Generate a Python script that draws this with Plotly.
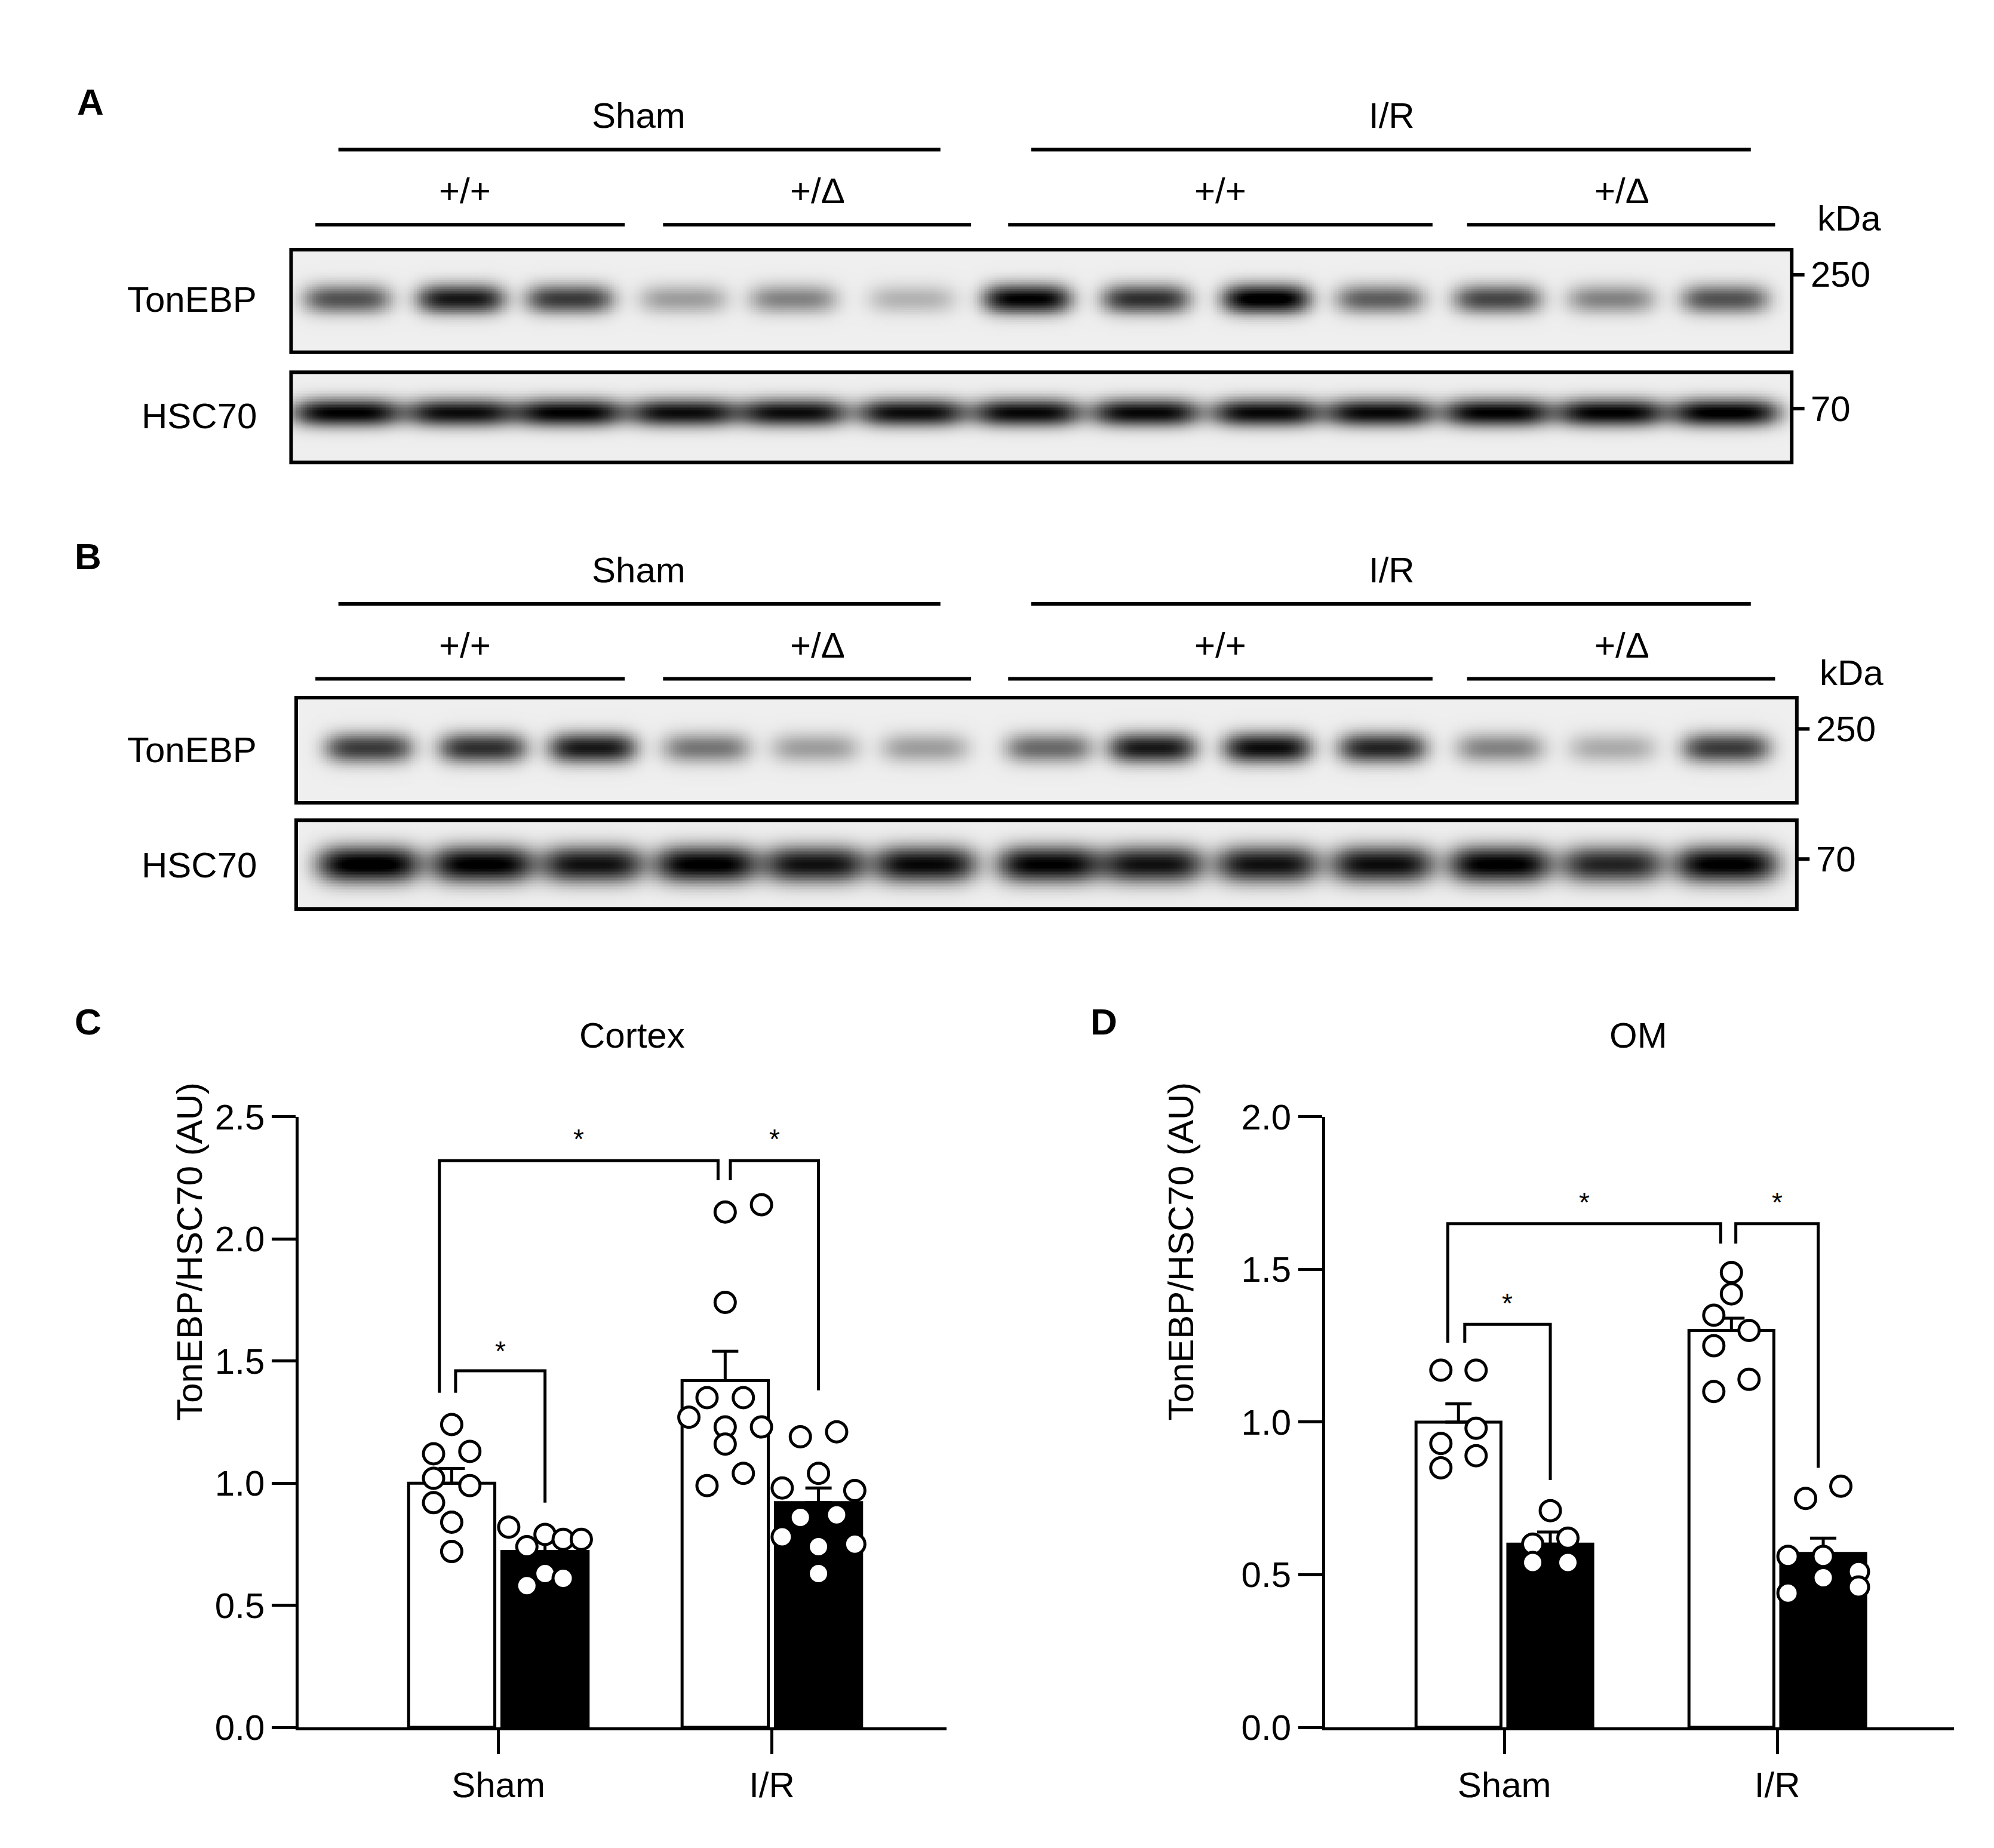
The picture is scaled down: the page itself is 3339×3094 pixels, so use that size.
import numpy as np
import plotly.graph_objects as go

W, H = 3339, 3094
DW, DH = 1560, 1445  # display reference frame
def px(x): return x / DW
def py(y): return 1 - y / DH

# ---------------- data ----------------
groups = ["Sham", "I/R"]
c_means_wt = [1.00, 1.42]
c_err_wt = [0.06, 0.12]
c_means_d = [0.72, 0.92]
c_err_d = [0.04, 0.06]
c_pts_sham_wt = [1.24, 1.12, 1.13, 1.02, 0.99, 0.92, 0.84, 0.72]
c_pts_sham_d = [0.82, 0.74, 0.79, 0.77, 0.77, 0.63, 0.61, 0.58]
c_pts_ir_wt = [2.11, 2.14, 1.74, 1.35, 1.35, 1.27, 1.23, 1.23, 1.16, 0.99, 1.04]
c_pts_ir_d = [1.19, 1.21, 1.04, 0.98, 0.97, 0.86, 0.87, 0.78, 0.74, 0.75, 0.63]

d_means_wt = [1.00, 1.30]
d_err_wt = [0.06, 0.04]
d_means_d = [0.60, 0.57]
d_err_d = [0.04, 0.05]
d_pts_sham_wt = [1.17, 1.17, 0.98, 0.93, 0.89, 0.85]
d_pts_sham_d = [0.71, 0.60, 0.62, 0.54, 0.54]
d_pts_ir_wt = [1.49, 1.42, 1.35, 1.30, 1.25, 1.14, 1.10]
d_pts_ir_d = [0.75, 0.79, 0.56, 0.56, 0.49, 0.51, 0.44, 0.46]

# blot band intensities (13 lanes)
a_tonebp = [0.6, 0.85, 0.7, 0.3, 0.4, 0.22, 0.95, 0.75, 1.0, 0.55, 0.65, 0.4, 0.6]
a_hsc70 = [0.95, 0.9, 0.95, 0.9, 0.9, 0.9, 0.92, 0.92, 0.92, 0.92, 0.95, 0.95, 0.97]
b_tonebp = [0.7, 0.75, 0.85, 0.45, 0.3, 0.3, 0.5, 0.85, 0.9, 0.8, 0.4, 0.25, 0.7]
b_hsc70 = [1.0, 0.97, 0.88, 0.97, 0.88, 0.92, 0.95, 0.88, 0.88, 0.9, 0.97, 0.8, 0.97]

# ---------------- styling / layout helpers ----------------
jit_sham_wt_c = [0, -2, 2, -2, 2, -2, 0, 0]
jit_sham_d_c = [-4, -2, 0, 2, 4, 0, 2, -2]
jit_ir_wt_c = [0, 4, 0, -2, 2, -4, 0, 4, 0, -2, 2]
jit_ir_d_c = [-2, 2, 0, -4, 4, -2, 2, -4, 0, 4, 0]
jit_sham_wt_d = [-2, 2, 2, -2, 2, -2]
jit_sham_d_d = [0, -2, 2, -2, 2]
jit_ir_wt_d = [0, 0, -2, 2, -2, 2, -2]
jit_ir_d_d = [-2, 2, -4, 0, 0, 4, -4, 4]
STEP = 0.14

FONT = "Liberation Sans, Arial, sans-serif"
LW = 5
fig = go.Figure()
shapes = []
annots = []

def add_bar_panel(xa, ya, centers, off, bw, means_wt, err_wt, means_d, err_d, pts, jits):
    xs_wt = [c - off for c in centers]
    xs_d = [c + off for c in centers]
    fig.add_trace(go.Bar(x=xs_wt, y=means_wt, width=bw, marker=dict(color="white", line=dict(color="black", width=LW)),
                         error_y=dict(type="data", array=err_wt, arrayminus=[0, 0], symmetric=False, color="black", thickness=LW, width=22),
                         xaxis=xa, yaxis=ya, showlegend=False))
    fig.add_trace(go.Bar(x=xs_d, y=means_d, width=bw, marker=dict(color="black", line=dict(color="black", width=LW)),
                         error_y=dict(type="data", array=err_d, arrayminus=[0, 0], symmetric=False, color="black", thickness=LW, width=22),
                         xaxis=xa, yaxis=ya, showlegend=False))
    bases = [xs_wt[0], xs_d[0], xs_wt[1], xs_d[1]]
    for b, p, j in zip(bases, pts, jits):
        fig.add_trace(go.Scatter(x=[b + k * STEP for k in j], y=p, mode="markers",
                                 marker=dict(size=34, color="white", line=dict(color="black", width=5)),
                                 xaxis=xa, yaxis=ya, showlegend=False, cliponaxis=False))
    return xs_wt, xs_d

# Panel C
c_centers = [3.08, 7.3]
cw, cd = add_bar_panel("x", "y", c_centers, 0.72, 1.33, c_means_wt, c_err_wt, c_means_d, c_err_d,
                       [c_pts_sham_wt, c_pts_sham_d, c_pts_ir_wt, c_pts_ir_d],
                       [jit_sham_wt_c, jit_sham_d_c, jit_ir_wt_c, jit_ir_d_c])
# Panel D
d_centers = [2.85, 7.19]
dw, dd = add_bar_panel("x2", "y2", d_centers, 0.73, 1.35, d_means_wt, d_err_wt, d_means_d, d_err_d,
                       [d_pts_sham_wt, d_pts_sham_d, d_pts_ir_wt, d_pts_ir_d],
                       [jit_sham_wt_d, jit_sham_d_d, jit_ir_wt_d, jit_ir_d_d])

def bracket(xr, yr, x0, y0, x1, y1, ytop):
    shapes.append(dict(type="path", xref=xr, yref=yr,
                       path=f"M {x0},{y0} L {x0},{ytop} L {x1},{ytop} L {x1},{y1}",
                       line=dict(color="black", width=5)))

def star(xr, yr, x, y):
    annots.append(dict(xref=xr, yref=yr, x=x, y=y, text="*", showarrow=False,
                       font=dict(family=FONT, size=46, color="black")))

# C brackets
bracket("x", "y", cw[0] + 0.06, 1.37, cd[0], 0.92, 1.46)
star("x", "y", (cw[0] + 0.06 + cd[0]) / 2, 1.54)
bracket("x", "y", cw[0] - 0.19, 1.37, cw[1] - 0.11, 2.24, 2.32)
star("x", "y", (cw[0] - 0.19 + cw[1] - 0.11) / 2, 2.41)
bracket("x", "y", cw[1] + 0.08, 2.24, cd[1], 1.38, 2.32)
star("x", "y", (cw[1] + 0.08 + cd[1]) / 2, 2.41)
# D brackets
bracket("x2", "y2", dw[0] + 0.1, 1.26, dd[0], 0.81, 1.32)
star("x2", "y2", (dw[0] + 0.1 + dd[0]) / 2, 1.39)
bracket("x2", "y2", dw[0] - 0.17, 1.26, dw[1] - 0.17, 1.585, 1.65)
star("x2", "y2", (dw[0] - 0.17 + dw[1] - 0.17) / 2, 1.72)
bracket("x2", "y2", dw[1] + 0.07, 1.585, dd[1] - 0.08, 0.85, 1.65)
star("x2", "y2", (dw[1] + 0.07 + dd[1] - 0.08) / 2, 1.72)

tickfont = dict(family=FONT, size=60, color="black")
ax_common = dict(showline=True, linecolor="black", linewidth=LW, ticks="outside", ticklen=40, tickwidth=LW,
                 tickcolor="black", showgrid=False, zeroline=False, tickfont=tickfont)

# ---------------- blots ----------------
def blot_z(intens, lanes, yc, ywid, lane_w):
    xs = np.linspace(0, 1, 700)
    ys = np.linspace(0, 1, 60)
    X, Y = np.meshgrid(xs, ys)
    z = np.full(X.shape, 0.06)
    for v, c in zip(intens, lanes):
        z += v * np.exp(-((X - c) / lane_w) ** 4) * np.exp(-((Y - yc) / ywid) ** 2)
    return xs, ys, np.clip(z, 0, 1)

a_lanes_px = [268, 357, 442, 531, 617, 710, 800, 893, 987, 1076, 1168, 1257, 1346]
b_lanes_px = [285, 374, 460, 549, 634, 720, 817, 898, 988, 1078, 1170, 1258, 1347]
blots = [
    (a_tonebp, a_lanes_px, 224, 1398, 180, 262, 0.52, 0.14, 34),
    (a_hsc70, a_lanes_px, 224, 1398, 278, 350, 0.55, 0.15, 42),
    (b_tonebp, b_lanes_px, 228, 1402, 538, 622, 0.52, 0.14, 34),
    (b_hsc70, b_lanes_px, 228, 1402, 636, 707, 0.50, 0.2, 40),
]
layout_axes = {}
for i, (inten, lanes_px, x0, x1, y0, y1, yc, yw, lw) in enumerate(blots):
    n = i + 3
    lanes = [(l - x0) / (x1 - x0) for l in lanes_px]
    xs, ys, z = blot_z(inten, lanes, yc, yw, lw / (x1 - x0))
    fig.add_trace(go.Heatmap(x=xs, y=ys, z=z, colorscale=[[0, "white"], [0.5, "#777"], [1, "black"]],
                             zmin=0, zmax=1, showscale=False, xaxis=f"x{n}", yaxis=f"y{n}", hoverinfo="skip"))
    layout_axes[f"xaxis{n}"] = dict(domain=[px(x0), px(x1)], range=[0, 1], visible=False, anchor=f"y{n}")
    layout_axes[f"yaxis{n}"] = dict(domain=[py(y1), py(y0)], range=[0, 1], visible=False, anchor=f"x{n}")
    shapes.append(dict(type="rect", xref="paper", yref="paper", x0=px(x0), x1=px(x1), y0=py(y1), y1=py(y0),
                       line=dict(color="black", width=6)))

def txt(x, y, s, size=60, bold=False, xanchor="center"):
    annots.append(dict(xref="paper", yref="paper", x=px(x), y=py(y), text=f"<b>{s}</b>" if bold else s,
                       showarrow=False, xanchor=xanchor, yanchor="middle",
                       font=dict(family=FONT, size=size, color="black")))

def hline(x0, x1, y):
    shapes.append(dict(type="line", xref="paper", yref="paper", x0=px(x0), x1=px(x1), y0=py(y), y1=py(y),
                       line=dict(color="black", width=6)))

for dy, letter, bx, ton_y, hsc_y, kda_x, off in [(0, "A", 67, 220, 313, 1398, 0), (363, "B", 65, 580, 672, 1402, 4)]:
    txt(bx, 62 + dy, letter, 62, bold=True)
    txt(496, 73 + dy, "Sham")
    txt(1085, 73 + dy, "I/R")
    hline(261, 732, 100 + dy)
    hline(803, 1366, 100 + dy)
    txt(360, 133 + dy, "+/+")
    txt(636, 133 + dy, "+/Δ")
    txt(951, 133 + dy, "+/+")
    txt(1265, 133 + dy, "+/Δ")
    hline(243, 485, 160 + dy)
    hline(515, 756, 160 + dy)
    hline(785, 1117, 160 + dy)
    hline(1144, 1385, 160 + dy)
    txt(1443 + off / 2, 155 + dy, "kDa")
    txt(198, ton_y, "TonEBP", xanchor="right")
    txt(198, hsc_y, "HSC70", xanchor="right")
    y250 = 200 + dy
    y70 = 307 + dy - (3 if dy else 0)
    hline(kda_x, kda_x + 10, y250)
    hline(kda_x, kda_x + 10, y70)
    txt(kda_x + 14, y250, "250", xanchor="left")
    txt(kda_x + 14, y70, "70", xanchor="left")

txt(65, 797, "C", 62, bold=True)
txt(491, 808, "Cortex")
txt(860, 797, "D", 62, bold=True)
txt(1278, 808, "OM")
for xx in [128, 920]:
    annots.append(dict(xref="paper", yref="paper", x=px(xx), y=py(1117), text="TonEBP/HSC70 (AU)",
                       textangle=-90, showarrow=False, font=dict(family=FONT, size=60, color="black")))

fig.update_layout(
    width=W, height=H, margin=dict(l=0, r=0, t=0, b=0), plot_bgcolor="white", paper_bgcolor="white",
    barmode="overlay", shapes=shapes, annotations=annots,
    xaxis=dict(domain=[px(230), px(737)], range=[0, 10], tickvals=c_centers, ticktext=groups, anchor="y", **ax_common),
    yaxis=dict(domain=[py(1361), py(873)], range=[0, 2.5], tickvals=[0, 0.5, 1.0, 1.5, 2.0, 2.5],
               tickformat=".1f", anchor="x", **ax_common),
    xaxis2=dict(domain=[px(1033), px(1525)], range=[0, 10], tickvals=d_centers, ticktext=groups, anchor="y2", **ax_common),
    yaxis2=dict(domain=[py(1361), py(873)], range=[0, 2.0], tickvals=[0, 0.5, 1.0, 1.5, 2.0],
                tickformat=".1f", anchor="x2", **ax_common),
    **layout_axes,
)
fig.write_html("out.html")
